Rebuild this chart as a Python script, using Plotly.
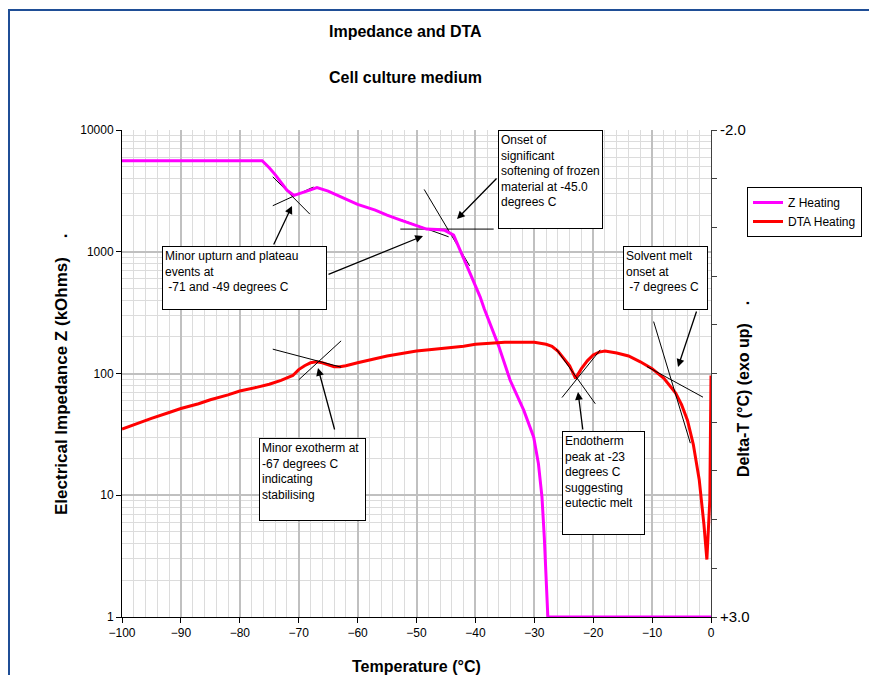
import plotly.graph_objects as go

# ---------------- data ----------------
# Z heating (electrical impedance, kOhms) vs temperature (deg C)
z_temp = [-100, -76.2, -75, -74, -72, -70.8, -69, -66.9, -65, -62, -60, -57, -55, -52.8, -50,
          -48.3, -46.5, -45.2, -43.7, -43, -41.4, -40.9, -39.2, -38.5, -36.1, -34.1, -31.8,
          -30.1, -29.3, -28.7, -28.3, -27.8, -27.7, 0]
z_kohm = [5600, 5600, 4900, 4300, 3200, 2900, 3100, 3360, 3150, 2700, 2450, 2200, 2000, 1830,
          1630, 1535, 1520, 1500, 1370, 1150, 752, 664, 426, 340, 171, 88, 50,
          30, 18.2, 9.7, 4.5, 1.29, 1.0, 1.0]

# DTA heating (delta-T, deg C, exo up) vs temperature
dta_temp = [-100, -97, -95, -92, -90, -87, -85, -82, -80, -77, -75, -73, -71, -70, -69, -68,
            -67, -66, -65, -64, -63, -62, -60, -57, -55, -52, -50, -47, -45, -42, -40, -37,
            -35, -32, -30, -28, -27, -26, -25, -24, -23, -22, -21, -20, -19, -18, -16, -14,
            -12, -10, -8, -7, -6, -5, -4, -3, -2, -1.2, -0.7, -0.2, 0]
dta_dT = [1.07, 1.00, 0.96, 0.90, 0.86, 0.81, 0.77, 0.72, 0.68, 0.64, 0.61, 0.57, 0.52, 0.46,
          0.42, 0.39, 0.38, 0.39, 0.41, 0.43, 0.43, 0.42, 0.39, 0.35, 0.32, 0.29, 0.27, 0.25,
          0.24, 0.22, 0.20, 0.19, 0.18, 0.18, 0.18, 0.20, 0.22, 0.27, 0.34, 0.42, 0.55, 0.45,
          0.37, 0.31, 0.28, 0.27, 0.29, 0.32, 0.38, 0.45, 0.55, 0.62, 0.70, 0.82, 0.98, 1.23,
          1.59, 2.05, 2.41, 1.80, 0.52]

# tangent construction lines (impedance axis), pairs of (temp, kOhm)
z_tangents = [
    [(-74.4, 4130), (-68.1, 2036)],
    [(-74.4, 2388), (-67.5, 3400)],
    [(-52.75, 1535), (-36.9, 1535)],
    [(-48.7, 3250), (-40.98, 766)],
    [(-52.75, 1845), (-44.55, 1327)],
]
# tangent construction lines (DTA axis), pairs of (temp, delta-T)
dta_tangents = [
    [(-74.4, 0.25), (-62.8, 0.435)],
    [(-70.0, 0.565), (-62.8, 0.165)],
    [(-26.26, 0.25), (-19.64, 0.811)],
    [(-25.3, 0.747), (-18.8, 0.257)],
    [(-9.74, -0.033), (-3.51, 1.215)],
    [(-10.87, 0.429), (-1.36, 0.743)],
]

x_ticks = list(range(-100, 1, 10))
y_ticks = [1, 10, 100, 1000, 10000]
y2_ticks = [-2.0, -1.5, -1.0, -0.5, 0.0, 0.5, 1.0, 1.5, 2.0, 2.5, 3.0]
y2_ticktext = ["-2.0", "", "", "", "", "", "", "", "", "", "+3.0"]

notes = [
    "Minor upturn and plateau<br>events at<br> -71 and -49 degrees C",
    "Onset of<br>significant<br>softening of frozen<br>material at -45.0<br>degrees C",
    "Minor exotherm at<br>-67 degrees C<br>indicating<br>stabilising",
    "Endotherm<br>peak at -23<br>degrees C<br>suggesting<br>eutectic melt",
    "Solvent melt<br>onset at<br> -7 degrees C",
]

# ---------------- layout geometry ----------------
W, H = 869, 675
L, R, T, B = 122, 158, 130, 58
PW, PH = W - L - R, H - T - B
FONT = "Arial, Liberation Sans, sans-serif"


def pxx(x):
    return (x - L) / PW


def pxy(y):
    return (H - B - y) / PH


fig = go.Figure()

# tangent lines
tx, ty = [], []
for seg in z_tangents:
    tx += [seg[0][0], seg[1][0], None]
    ty += [seg[0][1], seg[1][1], None]
fig.add_trace(go.Scatter(x=tx, y=ty, mode="lines", line=dict(color="black", width=1),
                         showlegend=False, hoverinfo="skip"))

fig.add_trace(go.Scatter(x=z_temp, y=z_kohm, mode="lines", name="Z Heating",
                         line=dict(color="#ff00ff", width=3), cliponaxis=False))
fig.add_trace(go.Scatter(x=dta_temp, y=dta_dT, mode="lines", name="DTA Heating", yaxis="y2",
                         line=dict(color="#ff0000", width=3), cliponaxis=False))

dx, dy = [], []
for seg in dta_tangents:
    dx += [seg[0][0], seg[1][0], None]
    dy += [seg[0][1], seg[1][1], None]
fig.add_trace(go.Scatter(x=dx, y=dy, mode="lines", yaxis="y2", line=dict(color="black", width=1),
                         showlegend=False, hoverinfo="skip"))

annotations = []
# text boxes: (left px, top px, width, height)
boxes = [(162, 246, 165, 64), (498, 130, 105, 99), (259, 438, 107, 83),
         (562, 431, 83, 104), (623, 246, 85, 64)]
for text, (bx, by, bw, bh) in zip(notes, boxes):
    annotations.append(dict(
        xref="paper", yref="paper", x=pxx(bx), y=pxy(by), xanchor="left", yanchor="top",
        text=text, showarrow=False, align="left", valign="top",
        width=bw - 6, height=bh - 6, borderpad=2, bordercolor="black", borderwidth=1,
        bgcolor="white", font=dict(family=FONT, size=12, color="black")))

# arrows: (head px, tail px)
arrows = [((292, 206), (273, 246)), ((423, 236), (327, 275)), ((457, 219), (498, 177)),
          ((318, 368), (335, 431)), ((578, 392), (583, 431)), ((678, 367), (697, 310))]
for (hx, hy), (tx_, ty_) in arrows:
    annotations.append(dict(
        xref="paper", yref="paper", x=pxx(hx), y=pxy(hy), axref="pixel", ayref="pixel",
        ax=tx_ - hx, ay=ty_ - hy, text="", showarrow=True, arrowhead=2, arrowsize=1.2,
        arrowwidth=1.3, arrowcolor="black", standoff=0))


def label(x, y, text, angle=0, size=16):
    return dict(xref="paper", yref="paper", x=pxx(x), y=pxy(y), text=text, textangle=angle,
                xanchor="center", yanchor="middle", showarrow=False,
                font=dict(family=FONT, size=size, color="black"))


annotations += [
    label(405, 31, "<b>Impedance and DTA</b>"),
    label(405, 77, "<b>Cell culture medium</b>"),
    label(416, 666, "<b>Temperature (°C)</b>"),
    label(61, 374, "<b>Electrical Impedance Z (kOhms)    .</b>", -90, 17),
    label(743, 389, "<b>Delta-T (°C) (exo up)    .</b>", -90),
]

fig.update_layout(
    width=W, height=H, margin=dict(l=L, r=R, t=T, b=B, autoexpand=False),
    paper_bgcolor="white", plot_bgcolor="white",
    font=dict(family=FONT, size=12, color="black"),
    xaxis=dict(range=[-100, 0], tickvals=x_ticks, showgrid=True, gridcolor="#c0c0c0",
               gridwidth=2, showline=True, linecolor="black", linewidth=1, ticks="outside",
               ticklen=5, tickcolor="black", zeroline=False,
               minor=dict(dtick=2, showgrid=True, gridcolor="#dcdcdc", gridwidth=1),
               tickfont=dict(size=12)),
    yaxis=dict(type="log", range=[0, 4], tickvals=y_ticks, ticktext=[str(v) for v in y_ticks],
               showgrid=True, gridcolor="#c0c0c0", gridwidth=2, showline=True,
               linecolor="black", linewidth=1, ticks="outside", ticklen=5, tickcolor="black",
               zeroline=False,
               minor=dict(dtick="D1", showgrid=True, gridcolor="#dcdcdc", gridwidth=1),
               tickfont=dict(size=12)),
    yaxis2=dict(overlaying="y", side="right", range=[3, -2], tickvals=y2_ticks,
                ticktext=y2_ticktext, showgrid=False, zeroline=False, showline=True,
                linecolor="#404040", linewidth=1, ticks="outside", ticklen=5,
                tickcolor="#404040", tickfont=dict(size=15)),
    legend=dict(x=pxx(747), y=pxy(187), xanchor="left", yanchor="top",
                bordercolor="black", borderwidth=1, bgcolor="white",
                font=dict(family=FONT, size=12), itemwidth=30, tracegroupgap=0),
    annotations=annotations,
    shapes=[dict(type="rect", xref="paper", yref="paper", x0=pxx(9), y0=pxy(700),
                 x1=pxx(900), y1=pxy(10), line=dict(color="#1f4e96", width=2),
                 fillcolor="rgba(0,0,0,0)", layer="below")],
    showlegend=True,
)

fig.write_html("out.html", config={"displayModeBar": False},
               post_script="document.body.style.margin='0';")
